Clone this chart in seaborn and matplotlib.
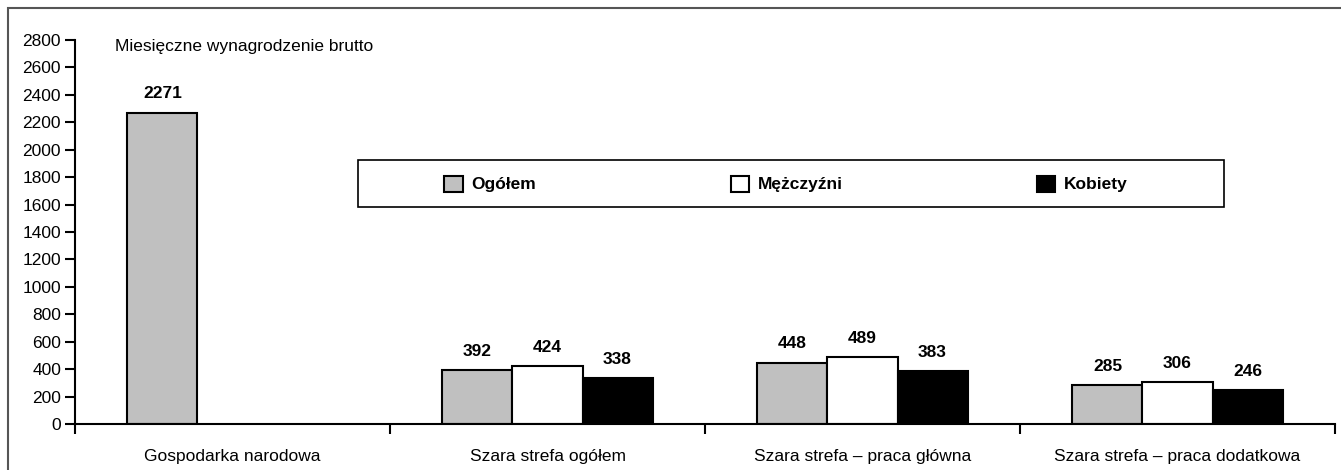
import pandas as pd
import matplotlib
matplotlib.use('Agg')
import matplotlib.pyplot as plt
import matplotlib.patches as mpatches
import seaborn as sb

categories = ['Gospodarka narodowa', 'Szara strefa ogółem',
              'Szara strefa – praca główna', 'Szara strefa – praca dodatkowa']
series = ['Ogółem', 'Mężczyźni', 'Kobiety']
ogolem = [2271, 392, 448, 285]
mezczyzni = [None, 424, 489, 306]
kobiety = [None, 338, 383, 246]
colors = ['#c0c0c0', '#ffffff', '#000000']
yticks = list(range(0, 2801, 200))

df = pd.DataFrame({'kategoria': categories * 3,
                   'seria': [s for s in series for _ in categories],
                   'wartosc': ogolem + mezczyzni + kobiety})

sb.set_style('ticks')
plt.rcParams['font.family'] = ['Liberation Sans', 'DejaVu Sans']
for k in ['text.color', 'xtick.color', 'ytick.color', 'axes.labelcolor']:
    plt.rcParams[k] = 'black'
fs = 12.5

W, H = 1341, 470
fig = plt.figure(figsize=(W / 100, H / 100), dpi=100)
ax = fig.add_axes([75 / W, 1 - 424 / H, 1260 / W, 384 / H])

sb.barplot(data=df, x='kategoria', y='wartosc', hue='seria', order=categories,
           hue_order=series, palette=colors, width=0.667, edgecolor='black',
           linewidth=1.5, saturation=1, ax=ax, legend=False)

for c in ax.containers:
    ax.bar_label(c, fmt='%d', padding=8, fontsize=fs, fontweight='bold')

ax.set_xlim(-0.5, 3.5)
ax.set_ylim(0, 2800)
ax.set_yticks(yticks)
ax.set_xlabel('')
ax.set_ylabel('')
ax.tick_params(axis='y', length=7, width=1.5, labelsize=fs, pad=3)
ax.tick_params(axis='x', which='major', length=0, labelsize=fs, pad=18)
ax.set_xticks([-0.5, 0.5, 1.5, 2.5, 3.5], minor=True)
ax.tick_params(axis='x', which='minor', length=7, width=1.5)
for s in ['top', 'right']:
    ax.spines[s].set_visible(False)
for s in ['left', 'bottom']:
    ax.spines[s].set_linewidth(1.5)
    ax.spines[s].set_color('black')

ax.text(115 / W, 1 - 47 / H, 'Miesięczne wynagrodzenie brutto',
        transform=fig.transFigure, fontsize=fs, va='center', ha='left')

# legend entries without frame, box drawn separately
handles = [mpatches.Patch(facecolor=col, edgecolor='black', linewidth=1.5, label=s)
           for s, col in zip(series, colors)]
ax.legend(handles=handles, ncol=3, loc='center',
          bbox_to_anchor=(786 / W, 1 - 184 / H), bbox_transform=fig.transFigure,
          frameon=False, prop={'weight': 'bold', 'size': fs},
          handlelength=1.05, handleheight=1.05, columnspacing=11.2,
          handletextpad=0.5)
fig.patches.append(mpatches.Rectangle((358 / W, 1 - 207 / H), 866 / W, 47 / H,
                                      transform=fig.transFigure, fill=False,
                                      edgecolor='black', linewidth=1.2, zorder=5))

# outer border of the picture
fig.patches.append(mpatches.Rectangle((8 / W, -0.1), 1.2, 1.1 - 8 / H,
                                      transform=fig.transFigure, fill=False,
                                      edgecolor='#555555', linewidth=1.5))

plt.savefig('out.png', dpi=100)
